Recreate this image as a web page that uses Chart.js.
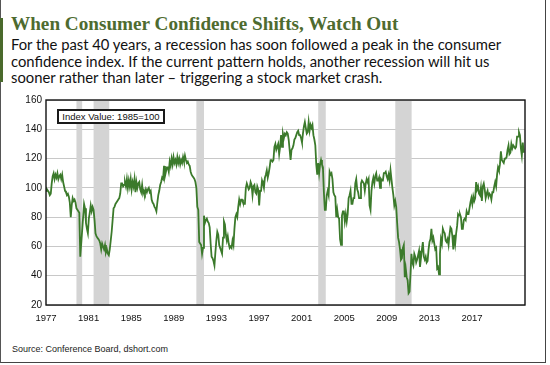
<!DOCTYPE html>
<html lang="en">
<head>
<meta charset="UTF-8">
<title>When Consumer Confidence Shifts, Watch Out</title>
<script src="https://cdn.jsdelivr.net/npm/chart.js"></script>
<style>
  body { margin: 0; width: 550px; height: 365px; background: #fff; overflow: hidden; position: relative; }
  #frame { position: absolute; left: 0; top: -2px; width: 544px; height: 364px; border-left: 1px solid #555; border-right: 1px solid #444; border-bottom: 1px solid #444; }
  #bar { position: absolute; left: 0; top: 18px; width: 3px; height: 64px; background: #4a6a2c; }
  #titulo { position: absolute; left: 11px; top: 13px; font: bold 19.2px "Liberation Serif", serif; color: #4e6b2f; white-space: nowrap; }
  #sub { position: absolute; left: 11px; top: 36px; font: 14.8px Lato, sans-serif; line-height: 16.5px; color: #111; white-space: nowrap; }
  #grafico { position: absolute; left: 0; top: 90px; }
  #indice { position: absolute; left: 57px; top: 109px; width: 104px; height: 11px; border: 2px solid #1a1a1a; background: #fff;
            font: 9.5px "Liberation Sans", Arial, sans-serif; line-height: 11px; text-align: center; color: #111; }
  #fonte { position: absolute; left: 12px; top: 344px; font: 9px "Liberation Sans", Arial, sans-serif; color: #222; }
</style>
</head>
<body>
<div id="frame"></div>
<div id="bar"></div>
<div id="titulo">When Consumer Confidence Shifts, Watch Out</div>
<div id="sub">For the past 40 years, a recession has soon followed a peak in the consumer<br>confidence index. If the current pattern holds, another recession will hit us<br>sooner rather than later – triggering a stock market crash.</div>
<canvas id="grafico" width="550" height="240"></canvas>
<div id="indice">Index Value: 1985=100</div>
<div id="fonte">Source: Conference Board, dshort.com</div>

<script>
// eixo x: anos mostrados (espaçamento proprio, nao alinhado com as datas)
const tickLabels = ['1977', '1981', '1985', '1989', '1993', '1997', '2001', '2005', '2009', '2013', '2017'];

// recessoes (anos decimais)
const recessionStart = [1980.0, 1981.5, 1990.5, 2001.17, 2007.92];
const recessionEnd = [1980.5, 1982.87, 1991.17, 2001.83, 2009.35];

// indice mensal a partir de maio 1977
const startYear = 1977;
const startMonth = 5;
const confidence = [
  98, 99, 98, 97, 95, 96, 103, 108,                       // 1977
  110, 106, 109, 107, 110, 106, 108, 109, 106, 109, 104, 101, // 1978
  98, 97, 95, 96, 94, 90, 80, 88, 93, 91, 92, 90,         // 1979
  86, 85, 84, 83, 53, 62, 71, 80, 89, 86, 76, 72,         // 1980
  69, 79, 83, 88, 84, 87, 85, 78, 69, 67, 66, 65,         // 1981
  64, 62, 58, 62, 60, 58, 61, 56, 58, 55, 54, 58,         // 1982
  64, 70, 78, 86, 87, 89, 90, 91, 92, 93, 96, 103,        // 1983
  103, 101, 102, 104, 101, 106, 100, 105, 101, 106, 99, 104, // 1984
  101, 106, 97, 104, 100, 103, 104, 99, 97, 102, 96, 98,  // 1985
  96, 99, 97, 99, 100, 97, 98, 92, 90, 89, 87, 86,        // 1986
  84, 90, 95, 98, 102, 104, 107, 106, 115, 108, 111, 114, // 1987
  114, 111, 118, 115, 120, 116, 121, 117, 119, 116, 121, 117, // 1988
  120, 116, 119, 117, 121, 118, 122, 119, 117, 118, 116, 115, // 1989
  111, 109, 108, 107, 106, 104, 100, 87, 85, 63, 62, 61,  // 1990
  55, 59, 81, 76, 78, 79, 77, 76, 73, 62, 53, 52,         // 1991
  50, 47, 56, 64, 70, 68, 61, 59, 57, 55, 66, 77,         // 1992
  75, 68, 64, 67, 62, 59, 60, 59, 64, 61, 72, 80,         // 1993
  82, 80, 87, 92, 89, 92, 92, 90, 89, 89, 100, 103,       // 1994
  101, 99, 100, 104, 102, 95, 101, 102, 97, 96, 101, 99,  // 1995
  88, 98, 98, 105, 103, 100, 107, 109, 112, 107, 110, 114, // 1996
  119, 119, 118, 119, 128, 130, 126, 128, 130, 123, 128, 136, // 1997
  128, 137, 134, 137, 136, 138, 137, 133, 126, 119, 126, 127, // 1998
  129, 133, 134, 136, 138, 139, 136, 136, 134, 131, 137, 142, // 1999
  145, 141, 137, 138, 145, 139, 143, 141, 143, 136, 133, 129, // 2000
  116, 109, 117, 110, 116, 119, 116, 114, 97, 85, 85, 95, // 2001
  98, 95, 111, 109, 110, 106, 97, 95, 94, 80, 85, 80,     // 2002
  79, 65, 61, 81, 84, 84, 77, 82, 77, 82, 93, 95,         // 2003
  98, 89, 89, 93, 93, 103, 106, 99, 97, 93, 93, 103,      // 2004
  105, 104, 103, 98, 103, 106, 104, 106, 88, 85, 98, 104, // 2005
  107, 103, 108, 110, 105, 105, 107, 100, 106, 105, 105, 110, // 2006
  110, 111, 108, 106, 109, 105, 112, 106, 100, 95, 88, 91, // 2007
  87, 76, 66, 63, 58, 51, 52, 59, 61, 39, 45, 39,         // 2008
  37, 28, 29, 41, 55, 49, 47, 55, 53, 49, 51, 54,         // 2009
  57, 46, 52, 58, 63, 53, 51, 53, 49, 50, 58, 63,         // 2010
  65, 72, 64, 66, 62, 58, 59, 45, 46, 41, 55, 65,         // 2011
  62, 72, 70, 69, 64, 63, 65, 61, 68, 73, 72, 67,         // 2012
  58, 68, 62, 69, 74, 82, 81, 82, 80, 72, 72, 78,         // 2013
  79, 78, 84, 82, 82, 86, 90, 93, 89, 94, 91, 93,         // 2014
  104, 99, 101, 96, 95, 100, 91, 101, 103, 99, 93, 96,    // 2015
  98, 94, 96, 95, 92, 97, 97, 101, 104, 101, 109, 114,    // 2016
  112, 116, 125, 119, 118, 117, 120, 120, 121, 126, 129, 123, // 2017
  124, 130, 127, 129, 128, 127, 128, 135, 135, 138, 136, 127, // 2018
  122, 131, 124                                           // 2019
];

const pontos = confidence.map(function (v, i) {
  return { x: startYear + (startMonth - 1 + i) / 12, y: v };
});

const fonteX = { family: '"Liberation Sans", Arial, sans-serif', size: 9.5 };
const fonteY = { family: '"Liberation Sans", Arial, sans-serif', size: 10 };

// faixas cinzas das recessoes + moldura da area do grafico
const recessoes = {
  id: 'recessoes',
  beforeDatasetsDraw(chart) {
    const { ctx, chartArea, scales } = chart;
    ctx.save();
    ctx.fillStyle = '#d4d4d4';
    for (let i = 0; i < recessionStart.length; i++) {
      const x1 = scales.x.getPixelForValue(recessionStart[i]);
      const x2 = scales.x.getPixelForValue(recessionEnd[i]);
      ctx.fillRect(x1, chartArea.top, x2 - x1, chartArea.bottom - chartArea.top);
    }
    ctx.restore();
  },
  afterDraw(chart) {
    const { ctx, chartArea } = chart;
    ctx.save();
    ctx.strokeStyle = '#111';
    ctx.lineWidth = 1.4;
    ctx.strokeRect(chartArea.left, chartArea.top, chartArea.right - chartArea.left, chartArea.bottom - chartArea.top);
    ctx.restore();
  }
};

const ctx = document.getElementById('grafico').getContext('2d');
new Chart(ctx, {
  type: 'line',
  data: {
    datasets: [{
      label: 'Consumer Confidence',
      data: pontos,
      xAxisID: 'x',
      yAxisID: 'y',
      borderColor: '#3b7a2b',
      borderWidth: 1.8,
      pointRadius: 0,
      tension: 0,
      fill: false
    }]
  },
  options: {
    responsive: false,
    animation: false,
    layout: { padding: { top: 9, right: 25, left: 0, bottom: 0 } },
    plugins: { legend: { display: false }, tooltip: { enabled: false } },
    scales: {
      x: { type: 'linear', min: 1977.333, max: 2019.278, display: false },
      xLab: {
        type: 'linear',
        position: 'bottom',
        min: 0,
        max: 11.244,
        grid: { display: false, drawTicks: false },
        border: { display: false },
        ticks: {
          stepSize: 1,
          autoSkip: false,
          maxRotation: 0,
          padding: 8,
          color: '#111',
          font: fonteX,
          callback: function (v) { return tickLabels[v] !== undefined ? tickLabels[v] : ''; }
        },
        afterFit: function (s) { s.height = 25; }
      },
      y: {
        min: 20,
        max: 160,
        grid: { color: '#c8c8c8', lineWidth: 1, drawTicks: false },
        border: { display: false },
        ticks: { stepSize: 20, padding: 4, color: '#111', font: fonteY },
        afterFit: function (s) { s.width = 46; }
      }
    }
  },
  plugins: [recessoes]
});
</script>
</body>
</html>
